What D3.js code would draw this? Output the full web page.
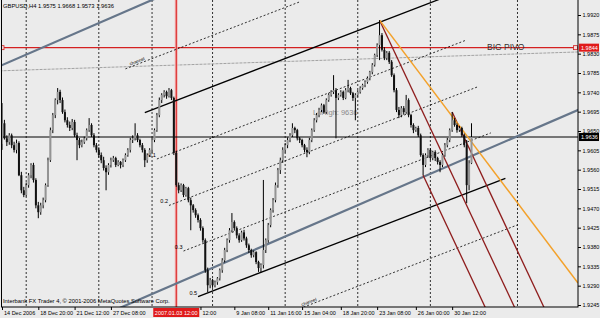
<!DOCTYPE html>
<html>
<head>
<meta charset="utf-8">
<script src="https://cdn.jsdelivr.net/npm/d3@7"></script>
<style>
  body { margin: 0; background: #ebebeb; }
  svg { display: block; font-family: "Liberation Sans", Arial, sans-serif; }
</style>
</head>
<body>
<div class="canvas"></div>
<script>
// GBPUSD H4 bars, prices in points (9636 = 1.9636)
const opens = [9620,9668,9633,9624,9640,9617,9606,9622,9547,9512,9501,9524,9547,9571,9536,9477,9461,9477,9489,9524,
  9582,9652,9687,9722,9741,9722,9694,9675,9664,9657,9671,9640,9629,9617,9624,9633,9652,9664,9640,9617,
  9606,9594,9582,9564,9554,9571,9582,9587,9571,9578,9571,9582,9594,9606,9629,9633,9640,9629,9617,9606,
  9582,9594,9606,9629,9652,9687,9722,9734,9741,9731,9745,9727,9599,9524,9512,9524,9501,9517,9489,9477,
  9466,9454,9443,9424,9396,9326,9291,9303,9291,9298,9307,9326,9349,9373,9396,9419,9438,9424,9407,9396,
  9414,9400,9384,9373,9361,9368,9345,9331,9338,9373,9396,9431,9466,9489,9524,9559,9582,9606,9617,9629,
  9640,9657,9652,9633,9629,9617,9606,9601,9629,9652,9675,9687,9699,9710,9694,9722,9734,9741,9745,9727,
  9734,9741,9727,9745,9750,9738,9727,9734,9741,9750,9757,9764,9773,9787,9804,9827,9850,9873,9839,9820,
  9832,9811,9780,9745,9699,9687,9703,9694,9722,9687,9664,9652,9657,9640,9594,9571,9594,9606,9587,9601,
  9587,9578,9571,9594,9617,9629,9652,9675,9664,9652,9657,9640,9617,9524,9575];
const highs = [9715,9676,9640,9645,9644,9625,9630,9626,9555,9520,9530,9552,9575,9576,9540,9485,9483,9495,9528,9588,
  9658,9692,9726,9750,9746,9728,9700,9682,9672,9678,9676,9646,9634,9630,9637,9656,9680,9668,9645,9622,
  9612,9600,9590,9570,9575,9588,9592,9590,9582,9580,9586,9598,9610,9634,9640,9668,9645,9632,9622,9610,
  9598,9610,9634,9656,9692,9728,9738,9745,9744,9750,9748,9730,9604,9530,9528,9527,9520,9520,9495,9480,
  9470,9458,9447,9428,9400,9332,9308,9306,9302,9310,9330,9354,9378,9400,9424,9459,9442,9428,9412,9418,
  9420,9404,9388,9376,9372,9370,9348,9342,9536,9400,9436,9470,9494,9530,9564,9588,9612,9622,9635,9645,
  9668,9660,9655,9636,9632,9620,9612,9634,9656,9680,9692,9704,9714,9713,9726,9738,9745,9780,9750,9738,
  9745,9744,9750,9769,9753,9741,9738,9745,9754,9760,9768,9777,9790,9808,9830,9854,9908,9878,9845,9836,
  9836,9815,9784,9750,9706,9708,9708,9734,9726,9690,9668,9660,9662,9644,9598,9598,9610,9610,9604,9605,
  9590,9582,9598,9622,9634,9656,9694,9680,9668,9662,9660,9644,9629,9582,9668];
const lows = [9606,9630,9615,9618,9610,9600,9598,9545,9505,9496,9498,9518,9540,9530,9470,9447,9455,9470,9484,9520,
  9578,9645,9680,9712,9715,9690,9670,9658,9650,9652,9636,9582,9610,9612,9620,9628,9648,9636,9612,9600,
  9588,9575,9558,9512,9548,9565,9578,9566,9568,9563,9566,9578,9590,9600,9622,9628,9624,9612,9600,9566,
  9576,9590,9600,9624,9648,9682,9715,9728,9725,9728,9722,9594,9520,9505,9508,9496,9497,9484,9419,9460,
  9448,9437,9418,9390,9320,9275,9284,9285,9286,9292,9302,9320,9344,9368,9390,9414,9418,9400,9390,9392,
  9395,9378,9366,9355,9356,9340,9322,9321,9330,9366,9390,9426,9460,9484,9518,9550,9576,9600,9610,9624,
  9636,9645,9628,9622,9612,9600,9589,9596,9624,9648,9670,9682,9694,9690,9690,9718,9730,9736,9633,9722,
  9730,9722,9724,9740,9734,9720,9675,9730,9737,9746,9752,9760,9768,9782,9800,9822,9815,9835,9815,9815,
  9806,9776,9740,9694,9680,9682,9688,9690,9682,9658,9645,9648,9636,9590,9547,9566,9588,9582,9582,9580,
  9572,9554,9566,9590,9612,9624,9648,9660,9646,9648,9636,9612,9482,9512,9573];
const closes = [9668,9633,9624,9640,9617,9606,9622,9547,9512,9501,9524,9547,9571,9536,9477,9461,9477,9489,9524,9582,
  9652,9687,9722,9741,9722,9694,9675,9664,9657,9671,9640,9629,9617,9624,9633,9652,9664,9640,9617,9606,
  9594,9582,9564,9554,9571,9582,9587,9571,9578,9571,9582,9594,9606,9629,9633,9640,9629,9617,9606,9582,
  9594,9606,9629,9652,9687,9722,9734,9741,9731,9745,9727,9599,9524,9512,9524,9501,9517,9489,9477,9466,
  9454,9443,9424,9396,9326,9291,9303,9291,9298,9307,9326,9349,9373,9396,9419,9438,9424,9407,9396,9414,
  9400,9384,9373,9361,9368,9345,9331,9338,9373,9396,9431,9466,9489,9524,9559,9582,9606,9617,9629,9640,
  9657,9652,9633,9629,9617,9606,9601,9629,9652,9675,9687,9699,9710,9694,9722,9734,9741,9745,9727,9734,
  9741,9727,9745,9750,9738,9727,9734,9741,9750,9757,9764,9773,9787,9804,9827,9850,9873,9839,9820,9832,
  9811,9780,9745,9699,9687,9703,9694,9722,9687,9664,9652,9657,9640,9594,9571,9594,9606,9587,9601,9587,
  9578,9571,9594,9617,9629,9652,9675,9664,9652,9657,9640,9617,9524,9575,9636];

// price scale ticks
const priceTicks = [9920,9875,9830,9785,9740,9695,9650,9605,9560,9515,9470,9425,9380,9335,9290,9245];
const priceLabels = ["1.9920","1.9875","1.9830","1.9785","1.9740","1.9695","1.9650","1.9605",
  "1.9560","1.9515","1.9470","1.9425","1.9380","1.9335","1.9290","1.9245"];

// time scale ticks (bar index)
const timeBars = [0, 15, 30, 45, 82, 96, 110, 124, 140, 155, 171, 186];
const timeLabels = ["14 Dec 2006","18 Dec 20:00","21 Dec 12:00","27 Dec 08:00","12:00","9 Jan 08:00",
  "11 Jan 16:00","15 Jan 04:00","18 Jan 20:00","23 Jan 08:00","26 Jan 00:00","30 Jan 12:00"];
const gridBars = [10, 40, 62, 87, 117, 147, 177, 213];

// objects
const bidPrice = 9636;
const pivotPrice = 9844;
const vlineBar = 72;
const vlineLabel = "2007.01.03 12:00";
const grayUpper = [[-1, 9801], [62, 9955]];
const grayLower = [[56, 9256], [238, 9699]];
const grayRay = [[-1, 9790], [238, 9834]];
const chanBase = [[59, 9693], [180, 9955]];
const chanOffset = [119, 0, -119, -238, -357, -476, -595];
const chanFrom = [51, 59, 64, 69, 75, 81, 86];
const chanTo = [123, 187, 192, 197, 202, 208, 213];
const chanDotted = [true, false, true, true, true, false, true];
const chanLabels = ["", "", "0.1", "0.2", "0.3", "0.5", ""];
const forkBars = [156, 174, 186];
const forkPrices = [9908, 9547, 9694];
const orangeLine = [[156, 9908], [238, 9296]];

const W = 600, H = 318;
const plotL = 2, plotR = 578, plotT = 0, plotB = 307;

const x = d3.scaleLinear().domain([0, 238]).range([plotL, plotR]);
const y = d3.scaleLinear().domain([9920, 9245]).range([15, 305]);

const svg = d3.select(".canvas").append("svg")
  .attr("width", W)
  .attr("height", H);

svg.append("rect")
  .attr("width", W)
  .attr("height", H)
  .attr("fill", "#ebebeb");

svg.append("clipPath").attr("id", "plot")
  .append("rect")
  .attr("x", plotL).attr("y", plotT)
  .attr("width", plotR - plotL).attr("height", plotB - plotT);

const plot = svg.append("g").attr("clip-path", "url(#plot)");

// vertical grid
plot.selectAll(".grid")
  .data(gridBars)
  .join("line")
  .attr("x1", d => x(d)).attr("x2", d => x(d))
  .attr("y1", plotT).attr("y2", plotB)
  .attr("stroke", "#000")
  .attr("stroke-width", 0.8)
  .attr("stroke-dasharray", "2,2");

const line = d3.line().x(d => x(d[0])).y(d => y(d[1]));

function extend(p1, p2, i0, i1) {
  const s = (p2[1] - p1[1]) / (p2[0] - p1[0]);
  return [[i0, p1[1] + s * (i0 - p1[0])], [i1, p1[1] + s * (i1 - p1[0])]];
}

// gray slightly rising line
plot.append("path")
  .attr("d", line(grayRay))
  .attr("fill", "none")
  .attr("stroke", "#9a9a9a")
  .attr("stroke-width", 0.9)
  .attr("stroke-dasharray", "3,1");

// BIG PIVO level
plot.append("line")
  .attr("x1", plotL).attr("x2", plotR)
  .attr("y1", y(pivotPrice)).attr("y2", y(pivotPrice))
  .attr("stroke", "#d42020")
  .attr("stroke-width", 1.3);

[0, 237].forEach(b => {
  plot.append("rect")
    .attr("x", x(b) - 2).attr("y", y(pivotPrice) - 2)
    .attr("width", 4).attr("height", 4)
    .attr("fill", "#f4dede")
    .attr("stroke", "#d42020")
    .attr("stroke-width", 0.8);
});

plot.append("text")
  .attr("x", 487).attr("y", y(pivotPrice) + 2.5)
  .attr("font-size", 8.5)
  .attr("fill", "#333")
  .text("BIG PIVO");

// red vertical line
plot.append("line")
  .attr("x1", x(vlineBar)).attr("x2", x(vlineBar))
  .attr("y1", plotT).attr("y2", plotB)
  .attr("stroke", "#f2b4b4")
  .attr("stroke-width", 3);
plot.append("line")
  .attr("x1", x(vlineBar)).attr("x2", x(vlineBar))
  .attr("y1", plotT).attr("y2", plotB)
  .attr("stroke", "#d81818")
  .attr("stroke-width", 1);

// bid line
plot.append("line")
  .attr("x1", plotL).attr("x2", plotR)
  .attr("y1", y(bidPrice)).attr("y2", y(bidPrice))
  .attr("stroke", "#000")
  .attr("stroke-width", 1);

// label behind bars
plot.append("text")
  .attr("x", 313).attr("y", 115)
  .attr("font-size", 7.5)
  .attr("fill", "#8a8a8a")
  .text("LoHigh: 9636");

// thick gray channel
[grayUpper, grayLower].forEach(p => {
  plot.append("path")
    .attr("d", line(extend(p[0], p[1], -5, 240)))
    .attr("fill", "none")
    .attr("stroke", "#66768a")
    .attr("stroke-width", 2.2);
});

// black parallel channel
chanOffset.forEach((off, k) => {
  const a = [chanBase[0][0], chanBase[0][1] + off];
  const b = [chanBase[1][0], chanBase[1][1] + off];
  const pts = extend(a, b, chanFrom[k], chanTo[k]);
  plot.append("path")
    .attr("d", line(pts))
    .attr("fill", "none")
    .attr("stroke", "#000")
    .attr("stroke-width", chanDotted[k] ? 0.8 : 1.3)
    .attr("stroke-dasharray", chanDotted[k] ? "2,2" : null);
  if (chanLabels[k]) {
    plot.append("text")
      .attr("x", x(pts[0][0]) - 1).attr("y", y(pts[0][1]) - 2)
      .attr("text-anchor", "end")
      .attr("font-size", 5.5)
      .attr("fill", "#000")
      .text(chanLabels[k]);
  }
});

// small tilted labels on outer lines
[[0, 53], [6, 124]].forEach(([k, b]) => {
  const a = [chanBase[0][0], chanBase[0][1] + chanOffset[k]];
  const c = [chanBase[1][0], chanBase[1][1] + chanOffset[k]];
  const p = extend(a, c, b, b + 10);
  const ang = Math.atan2(y(p[1][1]) - y(p[0][1]), x(p[1][0]) - x(p[0][0])) * 180 / Math.PI;
  plot.append("text")
    .attr("transform", `translate(${x(p[0][0])},${y(p[0][1]) - 1.5}) rotate(${ang})`)
    .attr("font-size", 4.5)
    .attr("fill", "#000")
    .text("channel");
});

// Andrews pitchfork
const handle = [forkBars[0], forkPrices[0]];
const mid = [(forkBars[1] + forkBars[2]) / 2, (forkPrices[1] + forkPrices[2]) / 2];
const dir = [mid[0] - handle[0], mid[1] - handle[1]];
[handle, [forkBars[1], forkPrices[1]], [forkBars[2], forkPrices[2]]].forEach(p => {
  plot.append("path")
    .attr("d", line([p, [p[0] + 3 * dir[0], p[1] + 3 * dir[1]]]))
    .attr("fill", "none")
    .attr("stroke", "#8e1c1c")
    .attr("stroke-width", 1.3);
});

// orange trend line
plot.append("path")
  .attr("d", line(orangeLine))
  .attr("fill", "none")
  .attr("stroke", "#f3a12a")
  .attr("stroke-width", 1.5);

// candles
const bars = opens.map((o, i) => ({ i, o, h: highs[i], l: lows[i], c: closes[i] }));

plot.selectAll(".wick")
  .data(bars)
  .join("line")
  .attr("x1", d => x(d.i)).attr("x2", d => x(d.i))
  .attr("y1", d => y(d.h)).attr("y2", d => y(d.l))
  .attr("stroke", "#000")
  .attr("stroke-width", 1);

plot.selectAll(".body")
  .data(bars)
  .join("rect")
  .attr("x", d => x(d.i) - 1)
  .attr("width", 2)
  .attr("y", d => y(Math.max(d.o, d.c)))
  .attr("height", d => Math.max(0.8, Math.abs(y(d.o) - y(d.c))))
  .attr("fill", d => d.c >= d.o ? "#949494" : "#111");

// frame
svg.append("rect")
  .attr("x", plotL - 0.5).attr("y", -1)
  .attr("width", plotR - plotL + 0.5).attr("height", plotB + 1)
  .attr("fill", "none")
  .attr("stroke", "#000")
  .attr("stroke-width", 1);

// price axis
const yAxis = d3.axisRight(y)
  .tickValues(priceTicks)
  .tickFormat((d, i) => priceLabels[i])
  .tickSize(3)
  .tickPadding(1.5);

const gy = svg.append("g")
  .attr("transform", `translate(${plotR},0)`)
  .call(yAxis);
gy.select(".domain").remove();
gy.selectAll("text").attr("font-size", 5.5).attr("fill", "#000")
  .attr("font-family", "Liberation Sans, Arial, sans-serif");

// price labels for objects
[[pivotPrice, "#e01a1a", "1.9844"], [bidPrice, "#000", "1.9636"]].forEach(([p, col, t]) => {
  svg.append("rect")
    .attr("x", plotR + 1).attr("y", y(p) - 4)
    .attr("width", 20).attr("height", 8)
    .attr("fill", col);
  svg.append("text")
    .attr("x", plotR + 3).attr("y", y(p) + 2)
    .attr("font-size", 5.5)
    .attr("fill", "#fff")
    .text(t);
});

// time axis
const xAxis = d3.axisBottom(x)
  .tickValues(timeBars)
  .tickFormat((d, i) => timeLabels[i])
  .tickSize(3)
  .tickPadding(1);

const gx = svg.append("g")
  .attr("transform", `translate(0,${plotB})`)
  .call(xAxis);
gx.select(".domain").remove();
gx.selectAll("text")
  .attr("text-anchor", "start")
  .attr("x", 1.5)
  .attr("font-size", 5.5)
  .attr("fill", "#000")
  .attr("font-family", "Liberation Sans, Arial, sans-serif");

// red time label of the vertical line
svg.append("rect")
  .attr("x", x(vlineBar) - 23).attr("y", plotB + 1)
  .attr("width", 46).attr("height", 9)
  .attr("fill", "#e01a1a");
svg.append("text")
  .attr("x", x(vlineBar)).attr("y", plotB + 7.8)
  .attr("text-anchor", "middle")
  .attr("font-size", 5.5)
  .attr("fill", "#fff")
  .text(vlineLabel);

// header and footer
svg.append("text")
  .attr("x", 3).attr("y", 8)
  .attr("font-size", 5.8)
  .attr("fill", "#000")
  .text("GBPUSD,H4  1.9575 1.9668 1.9573 1.9636");

svg.append("text")
  .attr("x", 3).attr("y", 303)
  .attr("font-size", 5.8)
  .attr("fill", "#000")
  .text("Interbank FX Trader 4, © 2001-2006 MetaQuotes Software Corp.");
</script>
</body>
</html>
